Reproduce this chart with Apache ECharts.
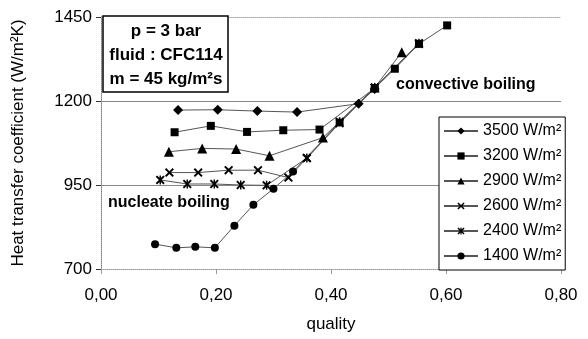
<!DOCTYPE html>
<html>
<head>
<meta charset="utf-8">
<title>Heat transfer coefficient vs quality</title>
<script src="https://cdn.jsdelivr.net/npm/echarts@6/dist/echarts.min.js"></script>
<style>
	html, body { margin: 0; padding: 0; background: #fff; }
	#chart { width: 588px; height: 339px; }
</style>
</head>
<body>
<div id="chart"></div>
<script>
// values: quality (x) and heat transfer coefficient (y)
const seriesNames = ['3500 W/m²', '3200 W/m²', '2900 W/m²', '2600 W/m²', '2400 W/m²', '1400 W/m²']

const q3500 = [0.134, 0.203, 0.272, 0.341, 0.448, 0.476]
const h3500 = [1173, 1174, 1170, 1167, 1192, 1236]

const q3200 = [0.128, 0.191, 0.254, 0.317, 0.380, 0.476, 0.511, 0.553, 0.602]
const h3200 = [1107, 1126, 1108, 1113, 1115, 1238, 1296, 1370, 1425]

const q2900 = [0.118, 0.176, 0.235, 0.293, 0.386, 0.476, 0.523]
const h2900 = [1049, 1059, 1057, 1037, 1091, 1240, 1345]

const q2600 = [0.119, 0.169, 0.222, 0.273, 0.326, 0.358, 0.415, 0.476, 0.553]
const h2600 = [987, 987, 994, 994, 972, 1030, 1134, 1240, 1370]

const q2400 = [0.103, 0.150, 0.197, 0.243, 0.288, 0.358, 0.415, 0.476, 0.553]
const h2400 = [965, 953, 953, 950, 949, 1030, 1138, 1240, 1372]

const q1400 = [0.094, 0.131, 0.164, 0.198, 0.232, 0.265, 0.300, 0.334, 0.415, 0.476]
const h1400 = [774, 763, 766, 763, 829, 891, 939, 990, 1136, 1238]

const xTicks = [0, 0.2, 0.4, 0.6, 0.8]
const yTicks = [700, 950, 1200, 1450]

const boxLines = ['p = 3 bar', 'fluid : CFC114', 'm = 45 kg/m²s']

// marker shapes
const crossPath = 'path://M0,1.5L1.5,0L5,3.5L8.5,0L10,1.5L6.5,5L10,8.5L8.5,10L5,6.5L1.5,10L0,8.5L3.5,5Z'
const starPath = 'path://M0,1.5L1.5,0L5,3.5L8.5,0L10,1.5L6.5,5L10,8.5L8.5,10L5,6.5L1.5,10L0,8.5L3.5,5ZM4.2,0L5.8,0L5.8,10L4.2,10Z'

const font = 'Arial, "Liberation Sans", sans-serif'

function zip(xs, ys) {
	return xs.map((x, i) => [x, ys[i]])
}

function makeSeries(name, xs, ys, symbol, size) {
	return {
		name: name,
		type: 'line',
		data: zip(xs, ys),
		symbol: symbol,
		symbolSize: size,
		showAllSymbol: true,
		lineStyle: { color: '#555', width: 1 },
		itemStyle: { color: '#000' },
		emphasis: { disabled: true },
		animation: false
	}
}

const chart = echarts.init(document.getElementById('chart'), null, { renderer: 'canvas' })

const option = {
	backgroundColor: '#fff',
	textStyle: { fontFamily: font },
	grid: { left: 101, right: 27, top: 17, bottom: 70 },
	legend: {
		data: seriesNames,
		orient: 'vertical',
		left: 439,
		top: 117,
		padding: [6, 4, 6, 4],
		itemWidth: 34,
		itemHeight: 9,
		itemGap: 9,
		borderColor: '#000',
		borderWidth: 1,
		backgroundColor: '#fff',
		textStyle: { fontSize: 16, color: '#000', fontFamily: font }
	},
	xAxis: [{
		type: 'value',
		min: xTicks[0],
		max: xTicks[xTicks.length - 1],
		interval: 0.2,
		name: 'quality',
		nameLocation: 'middle',
		nameGap: 47,
		nameTextStyle: { fontSize: 17, color: '#000' },
		axisLine: { show: true, lineStyle: { color: '#999', type: 'dotted' } },
		axisTick: { show: true, length: 5, lineStyle: { color: '#999' } },
		axisLabel: {
			fontSize: 17,
			color: '#000',
			margin: 18,
			formatter: v => v.toFixed(2).replace('.', ',')
		},
		splitLine: { show: false }
	}, {
		type: 'value',
		position: 'top',
		min: xTicks[0],
		max: xTicks[xTicks.length - 1],
		axisLine: { show: true, lineStyle: { color: '#aaa', type: 'dotted' } },
		axisTick: { show: false },
		axisLabel: { show: false },
		splitLine: { show: false }
	}],
	yAxis: [{
		type: 'value',
		min: yTicks[0],
		max: yTicks[yTicks.length - 1],
		interval: 250,
		name: 'Heat transfer coefficient (W/m²K)',
		nameLocation: 'middle',
		nameGap: 74,
		nameTextStyle: { fontSize: 17, color: '#000' },
		axisLine: { show: true, lineStyle: { color: '#333', width: 1 } },
		axisTick: { show: true, length: 5, lineStyle: { color: '#333' } },
		axisLabel: { fontSize: 17, color: '#000', margin: 9, formatter: v => String(v) },
		splitLine: {
			show: true,
			showMinLine: false,
			showMaxLine: false,
			lineStyle: { color: '#888', width: 1 }
		}
	}, {
		type: 'value',
		position: 'right',
		min: yTicks[0],
		max: yTicks[yTicks.length - 1],
		interval: 250,
		axisLine: { show: true, lineStyle: { color: '#aaa', type: 'dotted' } },
		axisTick: { show: false },
		axisLabel: { show: false },
		splitLine: { show: false }
	}],
	graphic: [{
		type: 'rect',
		shape: { x: 103, y: 16, width: 125, height: 76 },
		style: { fill: '#fff', stroke: '#000', lineWidth: 1.5 },
		z: 10
	}].concat(boxLines.map((t, i) => ({
		type: 'text',
		x: 166,
		y: 31 + i * 24,
		style: {
			text: t,
			fill: '#000',
			font: 'bold 17px ' + font,
			textAlign: 'center',
			textVerticalAlign: 'middle'
		},
		z: 11
	}))).concat([{
		type: 'text',
		x: 396,
		y: 85,
		style: {
			text: 'convective boiling',
			fill: '#000',
			font: 'bold 16px ' + font,
			textAlign: 'left',
			textVerticalAlign: 'middle'
		},
		z: 11
	}, {
		type: 'text',
		x: 108,
		y: 203,
		style: {
			text: 'nucleate boiling',
			fill: '#000',
			font: 'bold 16px ' + font,
			textAlign: 'left',
			textVerticalAlign: 'middle'
		},
		z: 11
	}]),
	series: [
		makeSeries(seriesNames[0], q3500, h3500, 'diamond', 10),
		makeSeries(seriesNames[1], q3200, h3200, 'rect', 8),
		makeSeries(seriesNames[2], q2900, h2900, 'triangle', 10),
		makeSeries(seriesNames[3], q2600, h2600, crossPath, 9),
		makeSeries(seriesNames[4], q2400, h2400, starPath, 9),
		makeSeries(seriesNames[5], q1400, h1400, 'circle', 8)
	]
}

chart.setOption(option)
</script>
</body>
</html>
